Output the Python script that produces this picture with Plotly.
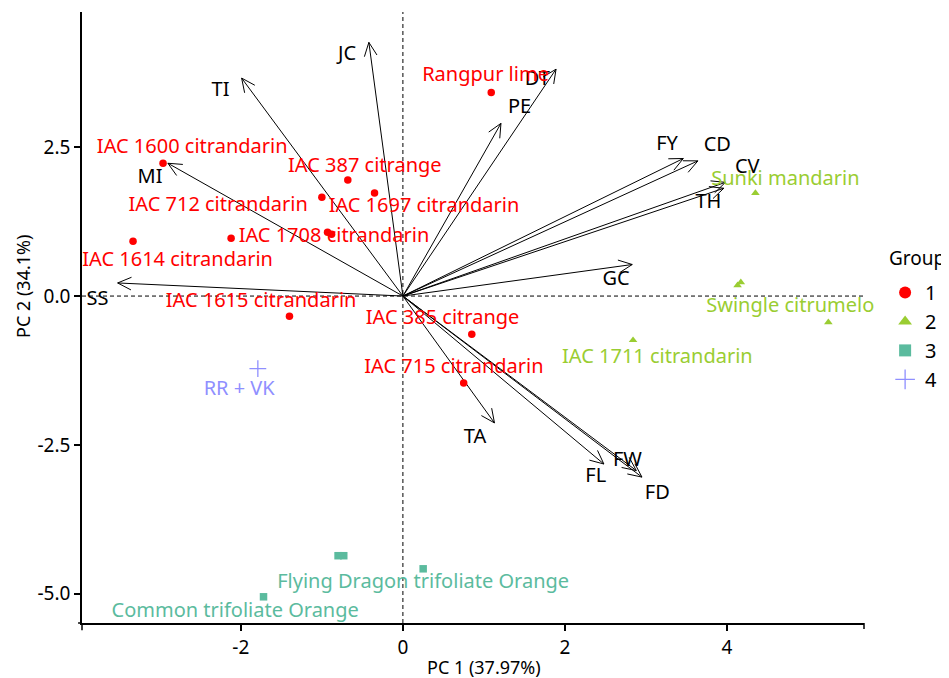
import math
import plotly.graph_objects as go

# ---- data -------------------------------------------------------------
# variable loadings (arrow tips) and their label positions
var_names = ["JC", "TI", "MI", "SS", "DT", "PE", "FY", "CD", "CV", "TH", "GC", "TA", "FL", "FW", "FD"]
var_x = [-0.42, -1.99, -2.90, -3.52, 1.89, 1.21, 3.46, 3.64, 3.98, 3.96, 2.83, 1.13, 2.48, 2.88, 2.95]
var_y = [4.26, 3.66, 2.23, 0.22, 3.81, 2.90, 2.31, 2.27, 1.91, 1.81, 0.53, -2.13, -2.82, -2.93, -3.04]
var_lab_x = [-0.69, -2.25, -3.12, -3.77, 1.66, 1.44, 3.26, 3.88, 4.25, 3.77, 2.63, 0.89, 2.38, 2.77, 3.14]
var_lab_y = [4.04, 3.44, 1.98, -0.07, 3.62, 3.15, 2.53, 2.52, 2.15, 1.56, 0.27, -2.38, -3.04, -2.77, -3.32]

# individuals (scores) per group
g1_x = [-2.96, -0.68, -1.00, -0.35, -2.12, -0.93, -0.88, -3.33, -1.40, 0.85, 0.75, 1.09]
g1_y = [2.23, 1.95, 1.66, 1.73, 0.97, 1.07, 1.04, 0.92, -0.34, -0.64, -1.46, 3.42]
g2_x = [4.35, 4.13, 4.17, 5.25, 2.84]
g2_y = [1.73, 0.18, 0.23, -0.44, -0.74]
g3_x = [-0.80, -0.73, 0.25, -1.72]
g3_y = [-4.36, -4.36, -4.58, -5.05]
g4_x = [-1.79]
g4_y = [-1.22]

# individual labels (repelled positions)
g1_labels = ["IAC 1600 citrandarin", "IAC 387 citrange", "IAC 712 citrandarin", "IAC 1697 citrandarin",
             "IAC 1708 citrandarin", "IAC 1614 citrandarin", "IAC 1615 citrandarin", "IAC 385 citrange",
             "IAC 715 citrandarin", "Rangpur lime"]
g1_lab_x = [-2.60, -0.47, -2.28, 0.26, -0.85, -2.78, -1.75, 0.49, 0.63, 1.02]
g1_lab_y = [2.48, 2.16, 1.51, 1.50, 0.99, 0.59, -0.10, -0.39, -1.21, 3.69]
g2_labels = ["Sunki mandarin", "Swingle citrumelo", "IAC 1711 citrandarin"]
g2_lab_x = [4.72, 4.78, 3.14]
g2_lab_y = [1.95, -0.18, -1.04]
g3_labels = ["Flying Dragon trifoliate Orange", "Common trifoliate Orange"]
g3_lab_x = [0.25, -2.07]
g3_lab_y = [-4.82, -5.30]
g4_labels = ["RR + VK"]
g4_lab_x = [-2.02]
g4_lab_y = [-1.58]

group_names = ["1", "2", "3", "4"]
legend_title = "Group"

x_ticks = [-2, 0, 2, 4]
x_tick_text = ["-2", "0", "2", "4"]
y_ticks = [2.5, 0.0, -2.5, -5.0]
y_tick_text = ["2.5", "0.0", "-2.5", "-5.0"]
x_range = [-3.96, 5.69]
y_range = [-5.49, 4.77]

# ---- style / layout constants --------------------------------------------
FONT = "Noto Sans"
C1, C2, C3, C4 = "#FF0000", "#9ACD32", "#5BBB9E", "#8F8FFF"
# figure sits inside the page body (8px default margin), so size/margins compensate
W, H = 941, 670
ML, MR, MT, MB = 74, 85, 4, 55
HEAD_LEN = 15.0           # arrow head arm length, px
HEAD_ANG = math.radians(25)

# pixel scale of the panel (used to shape arrow heads in screen space)
sx = (W - ML - MR) / (x_range[1] - x_range[0])
sy = (H - MT - MB) / (y_range[1] - y_range[0])

fig = go.Figure()

# arrows: shafts + open heads
ax_, ay_ = [], []
for tx, ty in zip(var_x, var_y):
    ax_ += [0, tx, None]
    px, py = tx * sx, ty * sy
    n = math.hypot(px, py)
    bx, by = -px / n, -py / n
    pts = []
    for s in (1, -1):
        c, si = math.cos(s * HEAD_ANG), math.sin(s * HEAD_ANG)
        rx, ry = bx * c - by * si, bx * si + by * c
        pts.append(((px + HEAD_LEN * rx) / sx, (py + HEAD_LEN * ry) / sy))
    ax_ += [pts[0][0], tx, pts[1][0], None]
    ay_ += [0, ty, None, pts[0][1], ty, pts[1][1], None]
fig.add_trace(go.Scatter(x=ax_, y=ay_, mode="lines", line=dict(color="black", width=1),
                         showlegend=False, hoverinfo="skip"))

groups = [
    (group_names[0], g1_x, g1_y, g1_labels, g1_lab_x, g1_lab_y, C1, "circle", 7.5),
    (group_names[1], g2_x, g2_y, g2_labels, g2_lab_x, g2_lab_y, C2, "triangle-up", 7.5),
    (group_names[2], g3_x, g3_y, g3_labels, g3_lab_x, g3_lab_y, C3, "square", 7.5),
    (group_names[3], g4_x, g4_y, g4_labels, g4_lab_x, g4_lab_y, C4, "cross-thin", 12),
]

for name, gx, gy, labs, lx, ly, col, sym, sz in groups:
    mk = dict(color=col, symbol=sym, size=sz)
    mk["line"] = dict(color=col, width=1.3) if sym == "cross-thin" else dict(width=0)
    fig.add_trace(go.Scatter(x=gx, y=gy, mode="markers", marker=mk, cliponaxis=False,
                             showlegend=False, hoverinfo="skip"))

# variable labels
fig.add_trace(go.Scatter(x=var_lab_x, y=var_lab_y, mode="text", text=var_names, cliponaxis=False,
                         textfont=dict(family=FONT, size=20, color="black"),
                         showlegend=False, hoverinfo="skip"))

for name, gx, gy, labs, lx, ly, col, sym, sz in groups:
    fig.add_trace(go.Scatter(x=lx, y=ly, mode="text", text=labs, cliponaxis=False,
                             textfont=dict(family=FONT, size=20, color=col),
                             showlegend=False, hoverinfo="skip"))

# legend-only traces
for name, gx, gy, labs, lx, ly, col, sym, sz in groups:
    mk = dict(color=col, symbol=sym, size=12 if sym != "cross-thin" else 14)
    mk["line"] = dict(color=col, width=1.3) if sym == "cross-thin" else dict(width=0)
    fig.add_trace(go.Scatter(x=[None], y=[None], mode="markers", marker=mk,
                             name=name, showlegend=True))

annotations = [
    dict(text="PC 1 (37.97%)", xref="paper", yref="paper", x=0.514, y=-0.072,
         showarrow=False, xanchor="center", yanchor="middle",
         font=dict(family=FONT, size=18, color="black")),
    dict(text="PC 2 (34.1%)", xref="paper", yref="paper", x=-0.0754, y=0.55,
         showarrow=False, xanchor="center", yanchor="middle", textangle=-90,
         font=dict(family=FONT, size=18, color="black")),
    dict(text=legend_title, xref="paper", yref="paper", x=1.030, y=0.597,
         showarrow=False, xanchor="left", yanchor="middle",
         font=dict(family=FONT, size=19, color="black")),
]

shapes = [
    dict(type="line", xref="x", yref="paper", x0=0, x1=0, y0=0, y1=1,
         line=dict(color="black", width=1, dash="4px,3px"), layer="below"),
    dict(type="line", xref="paper", yref="y", x0=0, x1=1, y0=0, y1=0,
         line=dict(color="black", width=1, dash="4px,3px"), layer="below"),
    # axis end details
    dict(type="line", xref="paper", yref="paper", x0=0, x1=0, y0=0, y1=-0.012,
         line=dict(color="black", width=1.5)),
    dict(type="line", xref="paper", yref="paper", x0=1, x1=1, y0=0, y1=-0.010,
         line=dict(color="black", width=1.5)),
    dict(type="line", xref="paper", yref="paper", x0=-0.005, x1=0, y0=0, y1=0,
         line=dict(color="black", width=1.5)),
]

fig.update_layout(
    width=W, height=H,
    margin=dict(l=ML, r=MR, t=MT, b=MB, autoexpand=False),
    paper_bgcolor="white", plot_bgcolor="white",
    font=dict(family=FONT, size=18, color="black"),
    xaxis=dict(range=x_range, tickvals=x_ticks, ticktext=x_tick_text, showgrid=False,
               zeroline=False, showline=True, linecolor="black", linewidth=1.5,
               ticks="outside", ticklen=6, tickwidth=1.5, tickcolor="black", automargin=False,
               tickfont=dict(family=FONT, size=19, color="black")),
    yaxis=dict(range=y_range, tickvals=y_ticks, ticktext=y_tick_text, showgrid=False,
               zeroline=False, showline=True, linecolor="black", linewidth=1.5,
               ticks="outside", ticklen=6, tickwidth=1.5, tickcolor="black", automargin=False,
               tickfont=dict(family=FONT, size=19, color="black")),
    legend=dict(x=1.027, y=0.573, xanchor="left", yanchor="top",
                font=dict(family=FONT, size=20), bgcolor="rgba(0,0,0,0)",
                tracegroupgap=0, itemwidth=30),
    annotations=annotations,
    shapes=shapes,
)

fig.write_html("out.html")
